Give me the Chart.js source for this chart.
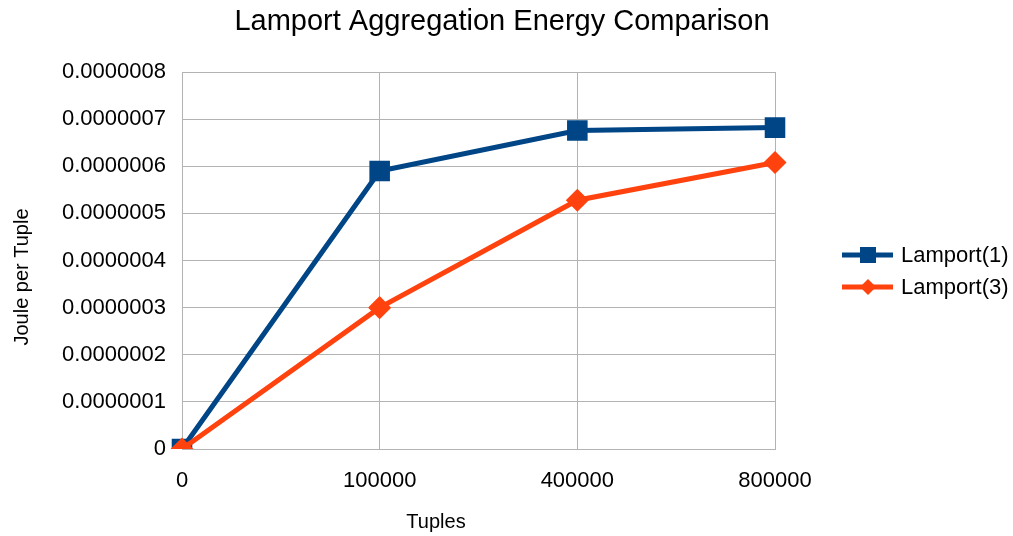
<!DOCTYPE html>
<html>
<head>
<meta charset="utf-8">
<script src="https://cdn.jsdelivr.net/npm/chart.js@4/dist/chart.umd.min.js"></script>
<style>
  html, body { margin: 0; padding: 0; background: #fff; }
  #wrap { width: 1013px; height: 536px; }
</style>
</head>
<body>
<div id="wrap"><canvas id="c" width="1013" height="536"></canvas></div>
<script>
// ─── Data ──────────────────────────────────────────────────────────────────
const categories = ["0", "100000", "400000", "800000"];
const lamport1 = [0, 5.9e-7, 6.76e-7, 6.82e-7];
const lamport3 = [0, 3.0e-7, 5.28e-7, 6.08e-7];
const seriesNames = ["Lamport(1)", "Lamport(3)"];
const chartTitle = "Lamport Aggregation Energy Comparison";
const xTitle = "Tuples";
const yTitle = "Joule per Tuple";

const BLUE = "#004586";
const ORANGE = "#ff420e";
const GRID = "#b3b3b3";
const FONT = "'Liberation Sans', Arial, sans-serif";

// Titles + legend drawn by hand so they sit where the office-suite original puts them
const decorations = {
  id: "decorations",
  afterDraw(chart) {
    const ctx = chart.ctx;
    ctx.save();
    ctx.fillStyle = "#000";
    ctx.textAlign = "center";
    ctx.textBaseline = "middle";
    ctx.font = "29px " + FONT;
    ctx.fillText(chartTitle, 502, 22);

    ctx.font = "20px " + FONT;
    ctx.fillText(xTitle, 436, 522);
    ctx.save();
    ctx.translate(22, 277);
    ctx.rotate(-Math.PI / 2);
    ctx.fillText(yTitle, 0, 0);
    ctx.restore();

    const rows = [
      { y: 255, color: BLUE, shape: "rect", label: seriesNames[0] },
      { y: 287, color: ORANGE, shape: "rectRot", label: seriesNames[1] },
    ];
    ctx.textAlign = "left";
    rows.forEach(r => {
      ctx.strokeStyle = r.color;
      ctx.lineWidth = 5;
      ctx.beginPath();
      ctx.moveTo(842, r.y);
      ctx.lineTo(893, r.y);
      ctx.stroke();
      ctx.fillStyle = r.color;
      if (r.shape === "rect") {
        ctx.fillRect(860, r.y - 8, 16, 16);
      } else {
        ctx.beginPath();
        ctx.moveTo(868, r.y - 8);
        ctx.lineTo(876, r.y);
        ctx.lineTo(868, r.y + 8);
        ctx.lineTo(860, r.y);
        ctx.closePath();
        ctx.fill();
      }
      ctx.fillStyle = "#000";
      ctx.font = "22px " + FONT;
      ctx.fillText(r.label, 901, r.y + 1);
    });
    ctx.restore();
  },
};

new Chart(document.getElementById("c"), {
  type: "line",
  data: {
    labels: categories,
    datasets: [
      {
        label: seriesNames[0],
        data: lamport1,
        borderColor: BLUE,
        backgroundColor: BLUE,
        borderWidth: 5,
        pointStyle: "rect",
        pointRadius: 11,
        pointHoverRadius: 11,
        tension: 0,
        order: 1,
      },
      {
        label: seriesNames[1],
        data: lamport3,
        borderColor: ORANGE,
        backgroundColor: ORANGE,
        borderWidth: 5,
        pointStyle: "rectRot",
        pointRadius: 8,
        pointHoverRadius: 8,
        tension: 0,
        order: 0, // drawn on top, like the original
      },
    ],
  },
  options: {
    responsive: false,
    animation: false,
    layout: { padding: { left: 8, right: 238, top: 72, bottom: 4 } },
    plugins: {
      legend: { display: false },
      tooltip: { enabled: false },
      title: { display: false },
    },
    scales: {
      x: {
        offset: false,
        grid: { color: GRID, drawTicks: false },
        border: { color: GRID },
        ticks: { color: "#000", font: { family: FONT, size: 22 }, padding: 19, maxRotation: 0 },
        afterFit: s => { s.height = 536 - 449 - 4; },
      },
      y: {
        min: 0,
        max: 8e-7,
        grid: { color: GRID, drawTicks: false },
        border: { color: GRID },
        ticks: {
          stepSize: 1e-7,
          color: "#000",
          padding: 16,
          font: { family: FONT, size: 22 },
          callback: v => (Math.abs(v) < 1e-12 ? "0" : v.toFixed(7)),
        },
        afterFit: s => { s.width = 182 - 8; },
      },
    },
  },
  plugins: [decorations],
});
</script>
</body>
</html>
